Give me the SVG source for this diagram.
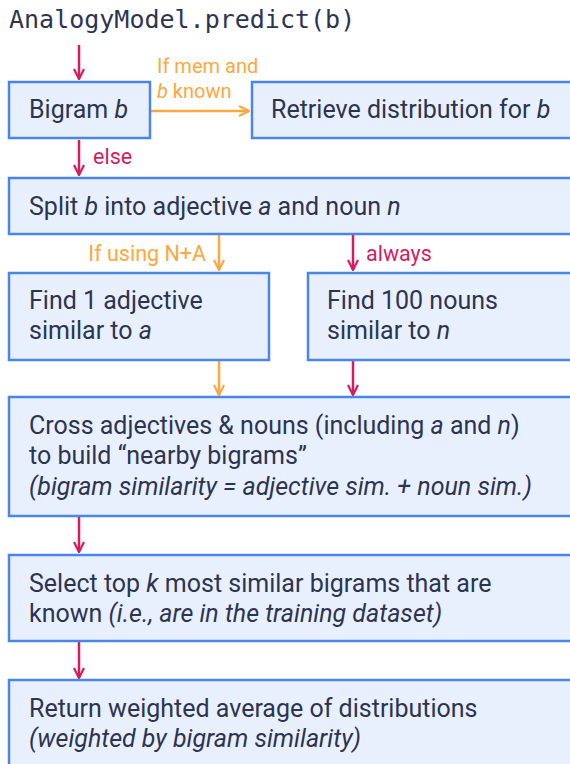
<svg xmlns="http://www.w3.org/2000/svg" width="570" height="764" viewBox="0 0 570 764">
<defs>
<style>
.box{fill:#E8F0FE;stroke:#4A86E8;stroke-width:2.5}
.t{font-family:Roboto,"Liberation Sans",sans-serif;font-size:25px;fill:#2D3452}
.lbl{font-family:Roboto,"Liberation Sans",sans-serif;font-size:21.5px}
.o{fill:#FFA63C}
.r{fill:#D81B60}
.lo{stroke:#FFA63C;stroke-width:2.5;fill:none}
.lr{stroke:#D81B60;stroke-width:2.5;fill:none}
.title{font-family:"DejaVu Sans Mono","Liberation Mono",monospace;font-size:25px;fill:#2D3452}
</style>
<marker id="ar" viewBox="0 0 12 12" refX="11" refY="6" markerWidth="12" markerHeight="12" markerUnits="userSpaceOnUse" orient="auto"><path d="M1,1 L11,6 L1,11" fill="none" stroke="#D81B60" stroke-width="2.2"/></marker>
<marker id="ao" viewBox="0 0 12 12" refX="11" refY="6" markerWidth="12" markerHeight="12" markerUnits="userSpaceOnUse" orient="auto"><path d="M1,1 L11,6 L1,11" fill="none" stroke="#FFA63C" stroke-width="2.2"/></marker>
</defs>
<rect width="570" height="764" fill="#FFFFFF"/>
<text class="title" x="9" y="28">AnalogyModel.predict(b)</text>

<g id="connectors">
<line class="lr" x1="79" y1="45" x2="79" y2="79" marker-end="url(#ar)"/>
<line class="lo" x1="151" y1="111" x2="249" y2="111" marker-end="url(#ao)"/>
<text class="lbl o" x="157" y="73" style="font-size:20px">If mem and</text>
<text class="lbl o" x="157" y="98" style="font-size:20px"><tspan font-style="italic">b</tspan> known</text>
<line class="lr" x1="79" y1="140" x2="79" y2="175" marker-end="url(#ar)"/>
<text class="lbl r" x="93" y="164">else</text>
<line class="lo" x1="219" y1="235" x2="219" y2="270" marker-end="url(#ao)"/>
<text class="lbl o" x="206" y="261" text-anchor="end">If using N+A</text>
<line class="lr" x1="353" y1="235" x2="353" y2="270" marker-end="url(#ar)"/>
<text class="lbl r" x="366" y="261">always</text>
<line class="lo" x1="219" y1="361" x2="219" y2="395" marker-end="url(#ao)"/>
<line class="lr" x1="353" y1="361" x2="353" y2="395" marker-end="url(#ar)"/>
<line class="lr" x1="79" y1="517" x2="79" y2="552" marker-end="url(#ar)"/>
<line class="lr" x1="79" y1="642" x2="79" y2="678" marker-end="url(#ar)"/>
</g>

<g id="bigram"><rect class="box" x="9" y="82" width="141" height="56"/>
<text class="t" x="29" y="118">Bigram <tspan font-style="italic">b</tspan></text></g>

<g id="retrieve"><rect class="box" x="252" y="82" width="330" height="56"/>
<text class="t" x="271" y="118">Retrieve distribution for <tspan font-style="italic">b</tspan></text></g>

<g id="split"><rect class="box" x="9" y="178" width="580" height="56"/>
<text class="t" x="29" y="215">Split <tspan font-style="italic">b</tspan> into adjective <tspan font-style="italic">a</tspan> and noun <tspan font-style="italic">n</tspan></text></g>

<g id="findadj"><rect class="box" x="9" y="273" width="260" height="87"/>
<text class="t" x="29" y="309">Find 1 adjective</text>
<text class="t" x="29" y="339">similar to <tspan font-style="italic">a</tspan></text></g>

<g id="findnoun"><rect class="box" x="308" y="273" width="280" height="87"/>
<text class="t" x="327" y="309">Find 100 nouns</text>
<text class="t" x="327" y="339">similar to <tspan font-style="italic">n</tspan></text></g>

<g id="cross"><rect class="box" x="9" y="397" width="580" height="119"/>
<text class="t" x="29" y="434">Cross adjectives &amp; nouns (including <tspan font-style="italic">a</tspan> and <tspan font-style="italic">n</tspan>)</text>
<text class="t" x="29" y="464">to build “nearby bigrams”</text>
<text class="t" x="29" y="495" font-style="italic">(bigram similarity = adjective sim. + noun sim.)</text></g>

<g id="select"><rect class="box" x="9" y="555" width="580" height="86"/>
<text class="t" x="29" y="592">Select top <tspan font-style="italic">k</tspan> most similar bigrams that are</text>
<text class="t" x="29" y="622">known <tspan font-style="italic">(i.e., are in the training dataset)</tspan></text></g>

<g id="return"><rect class="box" x="9" y="680" width="580" height="100"/>
<text class="t" x="29" y="717">Return weighted average of distributions</text>
<text class="t" x="29" y="747" font-style="italic">(weighted by bigram similarity)</text></g>
</svg>
